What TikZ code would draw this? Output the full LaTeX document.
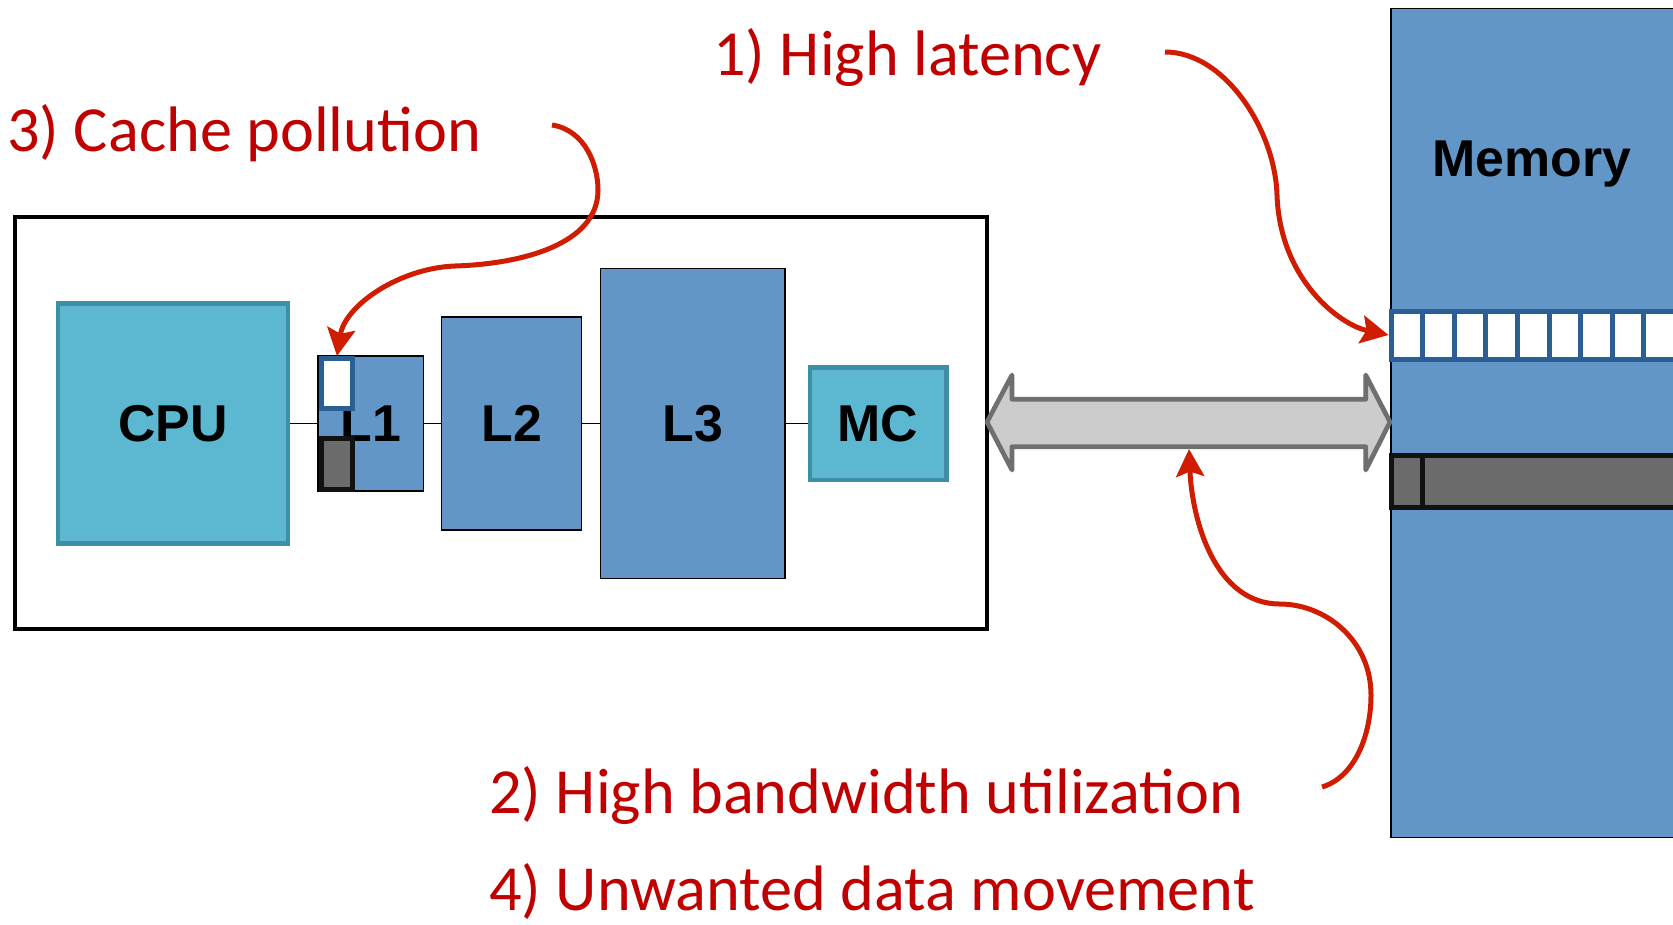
\documentclass[tikz,border=0pt]{standalone}
\usepackage{fontspec}
\setmainfont{Carlito}
\newfontfamily\arialfont{Liberation Sans}
\usetikzlibrary{arrows.meta}
\definecolor{memblue}{RGB}{97,150,199}
\definecolor{cputeal}{RGB}{91,184,208}
\definecolor{cpuedge}{RGB}{62,143,163}
\definecolor{celledge}{RGB}{42,95,148}
\definecolor{blockgray}{RGB}{107,107,107}
\definecolor{busfill}{RGB}{204,204,204}
\definecolor{busedge}{RGB}{111,111,111}
\definecolor{notered}{RGB}{192,0,0}
\definecolor{arrowred}{RGB}{208,28,0}
\begin{document}
\begin{tikzpicture}[x=0.02cm,y=-0.02cm,>={Stealth[length=0.55cm,width=0.56cm,inset=0.1cm]}]
\tikzstyle{blk}=[draw,line width=0.03cm,fill=memblue,inner sep=0,font=\arialfont\bfseries\fontsize{29.5}{35}\selectfont]
\tikzstyle{core}=[blk,draw=cpuedge,line width=0.09cm,fill=cputeal]
\tikzstyle{cellw}=[draw=celledge,line width=0.1cm,fill=white,minimum width=0.632cm,minimum height=0.96cm,inner sep=0]
\tikzstyle{cellg}=[draw=black!93,line width=0.1cm,fill=blockgray,minimum height=1.04cm,inner sep=0]
\tikzstyle{note}=[text=notered,inner sep=0,anchor=base west,font=\fontsize{36.6}{44}\selectfont]
\tikzstyle{redarr}=[->,draw=arrowred,line width=0.1cm]
\clip (0,0) rectangle (1673,924);
% chip
\node[draw,line width=0.08cm,minimum width=19.44cm,minimum height=8.26cm] (chip) at (500.9,423) {};
\node[core,minimum width=4.6cm,minimum height=4.81cm] (cpu) at (172.8,423.5) {CPU};
\node[blk,minimum width=2.11cm,minimum height=2.7cm] (l1) at (370.8,423.5) {L1};
\node[blk,minimum width=2.8cm,minimum height=4.26cm] (l2) at (511.6,423.5) {L2};
\node[blk,minimum width=3.69cm,minimum height=6.2cm] (l3) at (692.9,423.5) {L3};
\node[core,minimum width=2.73cm,minimum height=2.25cm] (mc) at (878.1,423.5) {MC};
\draw[line width=0.03cm] (cpu) -- (l1) (l1) -- (l2) (l2) -- (l3) (l3) -- (mc);
\node[cellw,minimum width=0.62cm,minimum height=1cm] (l1w) at (337,383.5) {};
\node[cellg,minimum width=0.62cm,minimum height=1.02cm] (l1g) at (337,464) {};
% memory
\node[blk,minimum width=6cm,minimum height=16.58cm,anchor=west] (mem) at (1390,423) {};
\node[font=\arialfont\bfseries\fontsize{29.5}{35}\selectfont,anchor=base,inner sep=0] (memlbl) at (1532,176) {Memory};
\foreach \i in {0,...,8} \node[cellw] (c\i) at (1406.8+31.6*\i,335) {};
\node[cellg,minimum width=0.62cm] (g0) at (1406.5,481.5) {};
\node[cellg,minimum width=5.36cm] (g1) at (1556,481.5) {};
% bus
\draw[busedge,fill=busfill,line width=0.094cm,line join=round] (987,422) -- (1012,375) -- (1012,399.3) -- (1365.7,399.3) -- (1365.7,375) -- (1390,422) -- (1365.7,470) -- (1365.7,446.7) -- (1012,446.7) -- (1012,470) -- cycle;
\coordinate (busB) at (1189,449);
% labels
\node[note] (lat) at (713,75) {1) High latency};
\node[note] (poll) at (7,151) {3) Cache pollution};
\node[note] (bw) at (489,813) {2) High bandwidth utilization};
\node[note] (move) at (489,910) {4) Unwanted data movement};
\coordinate (latS) at (1165,52);
\coordinate (pollS) at (552,125);
\coordinate (bwS) at (1322,787);
\draw[redarr] (latS) .. controls (1225,52) and (1275,130) .. (1277,195) .. controls (1280,280) and (1340,325) .. (c0.west);
\draw[redarr] (pollS) .. controls (585,130) and (598,165) .. (598,190) .. controls (598,245) and (520,264) .. (455,266) .. controls (400,268) and (345,305) .. (l1w.north);
\draw[redarr] (bwS) .. controls (1355,777) and (1371,735) .. (1371,695) .. controls (1371,640) and (1325,604) .. (1280,604) .. controls (1215,604) and (1192,520) .. (busB);
\end{tikzpicture}
\end{document}
